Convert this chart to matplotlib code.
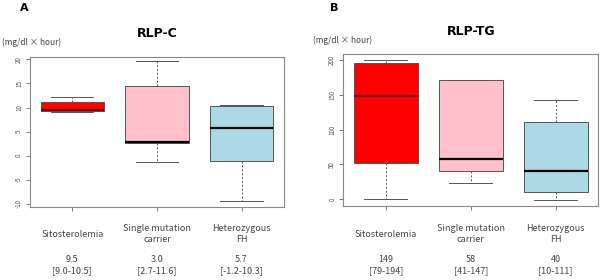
import matplotlib
matplotlib.use("Agg")
import matplotlib.pyplot as plt
from matplotlib.transforms import blended_transform_factory

plt.rcParams['font.family'] = ['Noto Sans CJK JP', 'DejaVu Sans']

# groups and box colours
groups = ['Sitosterolemia', 'Single mutation\ncarrier', 'Heterozygous\nFH']
colors = ['#ff0000', '#ffc0cb', '#add8e6']

# RLP-C (panel A): whisker low, Q1, median, Q3, whisker high
rlpc_low = [9.1, -1.3, -9.4]
rlpc_q1 = [9.2, 2.7, -1.2]
rlpc_med = [9.4, 2.8, 5.7]
rlpc_q3 = [11.2, 14.4, 10.3]
rlpc_high = [12.1, 19.6, 10.5]
rlpc_notes = ['9.5\n[9.0-10.5]', '3.0\n[2.7-11.6]', '5.7\n[-1.2-10.3]']
rlpc_ticks = [-10, -5, 0, 5, 10, 15, 20]

# RLP-TG (panel B)
rlptg_low = [0, 23, -1]
rlptg_q1 = [52, 41, 10]
rlptg_med = [148, 58, 40]
rlptg_q3 = [196, 171, 111]
rlptg_high = [200, 171, 142]
rlptg_notes = ['149\n[79-194]', '58\n[41-147]', '40\n[10-111]']
rlptg_ticks = [0, 50, 100, 150, 200]


def draw_panel(ax, low, q1, med, q3, high, notes, ticks, ylim, title):
    stats = []
    for i in range(len(groups)):
        stats.append(dict(whislo=low[i], q1=q1[i], med=med[i],
                          q3=q3[i], whishi=high[i], fliers=[]))
    bp = ax.bxp(stats, positions=[1, 2, 3], widths=0.75, capwidths=0.5,
                patch_artist=True, showfliers=False,
                boxprops=dict(edgecolor='#555555', linewidth=0.7),
                medianprops=dict(color='black', linewidth=1.6),
                whiskerprops=dict(color='#555555', linewidth=0.7, linestyle=(0, (2, 2))),
                capprops=dict(color='#555555', linewidth=0.7))
    for patch, c in zip(bp['boxes'], colors):
        patch.set_facecolor(c)
    bp['medians'][0].set_color('#7a0000')

    ax.set_xlim(0.5, 3.5)
    ax.set_ylim(*ylim)
    ax.set_yticks(ticks)
    ax.set_yticklabels([str(t) for t in ticks], rotation=90, va='center',
                       fontsize=4.5, color='#555555')
    ax.set_xticks([1, 2, 3])
    ax.set_xticklabels(['', '', ''])
    ax.tick_params(axis='both', length=3, width=0.6, color='#666666', pad=2)
    for s in ax.spines.values():
        s.set_color('#888888')
        s.set_linewidth(0.8)

    tr = blended_transform_factory(ax.transData, ax.transAxes)
    for i, (g, n) in enumerate(zip(groups, notes)):
        ax.text(i + 1, -0.185, g, transform=tr, ha='center', va='center',
                fontsize=6.5, color='#444444', linespacing=1.3)
        ax.text(i + 1, -0.39, n, transform=tr, ha='center', va='center',
                fontsize=6.5, color='#444444', linespacing=1.3)
    ax.set_title(title, fontsize=9, fontweight='bold', family='DejaVu Sans', pad=14)


fig = plt.figure(figsize=(6, 2.8), dpi=100)
axA = fig.add_axes([0.050, 0.262, 0.423, 0.536])
axB = fig.add_axes([0.572, 0.264, 0.425, 0.543])

draw_panel(axA, rlpc_low, rlpc_q1, rlpc_med, rlpc_q3, rlpc_high,
           rlpc_notes, rlpc_ticks, (-10.6, 20.6), 'RLP-C')
draw_panel(axB, rlptg_low, rlptg_q1, rlptg_med, rlptg_q3, rlptg_high,
           rlptg_notes, rlptg_ticks, (-10, 208.6), 'RLP-TG')

fig.text(0.033, 0.970, 'A', fontsize=8, fontweight='bold', family='DejaVu Sans', va='center')
fig.text(0.550, 0.970, 'B', fontsize=8, fontweight='bold', family='DejaVu Sans', va='center')
fig.text(0.003, 0.850, '(mg/dl × hour)', fontsize=6, color='#444444', va='center')
fig.text(0.522, 0.856, '(mg/dl × hour)', fontsize=6, color='#444444', va='center')

fig.savefig('out.png', dpi=100, facecolor='white')
